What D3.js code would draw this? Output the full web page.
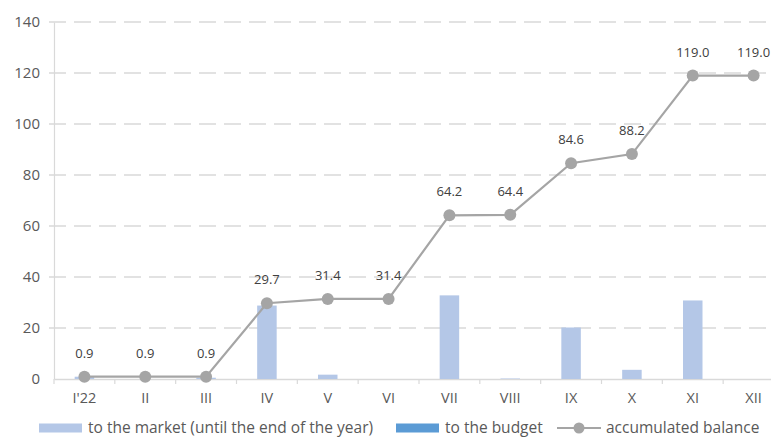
<!DOCTYPE html>
<html>
<head>
<meta charset="utf-8">
<script src="https://cdn.jsdelivr.net/npm/d3@7"></script>
<style>
  html, body { margin: 0; padding: 0; background: #fff; }
  svg { display: block; font-family: "Open Sans", "Noto Sans", sans-serif; }
</style>
</head>
<body>
<svg id="chart" width="771" height="437"></svg>
<script>
// Monthly flows and the running balance
const months = ["I'22", "II", "III", "IV", "V", "VI", "VII", "VIII", "IX", "X", "XI", "XII"];
const toMarket = [0.9, 0, 0.5, 28.8, 1.7, 0, 32.8, 0.2, 20.2, 3.6, 30.8, 0];
const toBudget = [0, 0, 0, 0, 0, 0, 0, 0, 0, 0, 0, 0];
const balance = [0.9, 0.9, 0.9, 29.7, 31.4, 31.4, 64.2, 64.4, 84.6, 88.2, 119.0, 119.0];
const yTicks = [0, 20, 40, 60, 80, 100, 120, 140];
const legendLabels = ["to the market (until the end of the year)", "to the budget", "accumulated balance"];

const svg = d3.select("#chart");
const plotLeft = 54, plotRight = 784, plotTop = 22, plotBottom = 379;

const x = d3.scaleBand().domain(months).range([plotLeft, plotRight]).paddingInner(0).paddingOuter(0);
const y = d3.scaleLinear().domain([0, 140]).range([plotBottom, plotTop]);

const gridColor = "#d9d9d9";
const textColor = "#595959";

// Horizontal dashed gridlines
svg.append("g").selectAll("line").data(yTicks.filter(d => d > 0)).join("line")
  .attr("x1", plotLeft - 5).attr("x2", 771)
  .attr("y1", d => y(d)).attr("y2", d => y(d))
  .attr("stroke", gridColor).attr("stroke-width", 1.6)
  .attr("stroke-dasharray", "17,8");

// Y axis
const yAxis = d3.axisLeft(y).tickValues(yTicks).tickSize(0).tickPadding(14);
const gy = svg.append("g").attr("transform", `translate(${plotLeft},0)`).call(yAxis);
gy.select(".domain").attr("stroke", gridColor).attr("stroke-width", 1.2);
gy.selectAll("text").attr("fill", textColor).style("font-size", "15px")
  .style("font-family", "'Open Sans', sans-serif");

// X axis
const xAxis = d3.axisBottom(x).tickSize(0).tickPadding(14);
const gx = svg.append("g").attr("transform", `translate(0,${plotBottom})`).call(xAxis);
gx.select(".domain").attr("stroke", gridColor).attr("stroke-width", 1.5);
gx.selectAll("text").attr("fill", textColor).style("font-size", "14.5px")
  .style("font-family", "'Open Sans', sans-serif");
// Category boundary ticks
svg.append("g").selectAll("line").data(months).join("line")
  .attr("x1", d => x(d)).attr("x2", d => x(d))
  .attr("y1", plotBottom).attr("y2", plotBottom + 5)
  .attr("stroke", gridColor).attr("stroke-width", 1.2);

// Bars
const barW = 19.5;
svg.append("g").selectAll("rect").data(months).join("rect")
  .attr("x", d => x(d) + x.bandwidth() / 2 - barW / 2)
  .attr("width", barW)
  .attr("y", (d, i) => y(toMarket[i]))
  .attr("height", (d, i) => y(0) - y(toMarket[i]))
  .attr("fill", "#b4c7e7");
svg.append("g").selectAll("rect").data(months).join("rect")
  .attr("x", d => x(d) + x.bandwidth() / 2 - barW / 2)
  .attr("width", barW)
  .attr("y", (d, i) => y(toBudget[i]))
  .attr("height", (d, i) => y(0) - y(toBudget[i]))
  .attr("fill", "#5b9bd5");

// Accumulated balance line
const cx = (d, i) => x(months[i]) + x.bandwidth() / 2;
const line = d3.line().x((d, i) => cx(d, i)).y(d => y(d));
svg.append("path").datum(balance)
  .attr("d", line).attr("fill", "none")
  .attr("stroke", "#a5a5a5").attr("stroke-width", 2.2);
svg.append("g").selectAll("circle").data(balance).join("circle")
  .attr("cx", cx).attr("cy", d => y(d)).attr("r", 6)
  .attr("fill", "#a5a5a5");
svg.append("g").selectAll("text").data(balance).join("text")
  .attr("x", cx).attr("y", d => y(d) - 19)
  .attr("text-anchor", "middle")
  .attr("fill", "#404040").style("font-size", "13px")
  .text(d => d.toFixed(1));

// Legend
const ly = 428;
const leg = svg.append("g").style("font-size", "15.5px").attr("fill", textColor);
leg.append("rect").attr("x", 39).attr("y", ly - 4.5).attr("width", 43).attr("height", 9).attr("fill", "#b4c7e7");
leg.append("text").attr("x", 88).attr("y", ly + 5).text(legendLabels[0]);
leg.append("rect").attr("x", 396).attr("y", ly - 4.5).attr("width", 43).attr("height", 9).attr("fill", "#5b9bd5");
leg.append("text").attr("x", 445).attr("y", ly + 5).text(legendLabels[1]);
leg.append("line").attr("x1", 557).attr("x2", 601).attr("y1", ly).attr("y2", ly)
  .attr("stroke", "#a5a5a5").attr("stroke-width", 2.2);
leg.append("circle").attr("cx", 579).attr("cy", ly).attr("r", 5.5).attr("fill", "#a5a5a5");
leg.append("text").attr("x", 606).attr("y", ly + 5).text(legendLabels[2]);
</script>
</body>
</html>
